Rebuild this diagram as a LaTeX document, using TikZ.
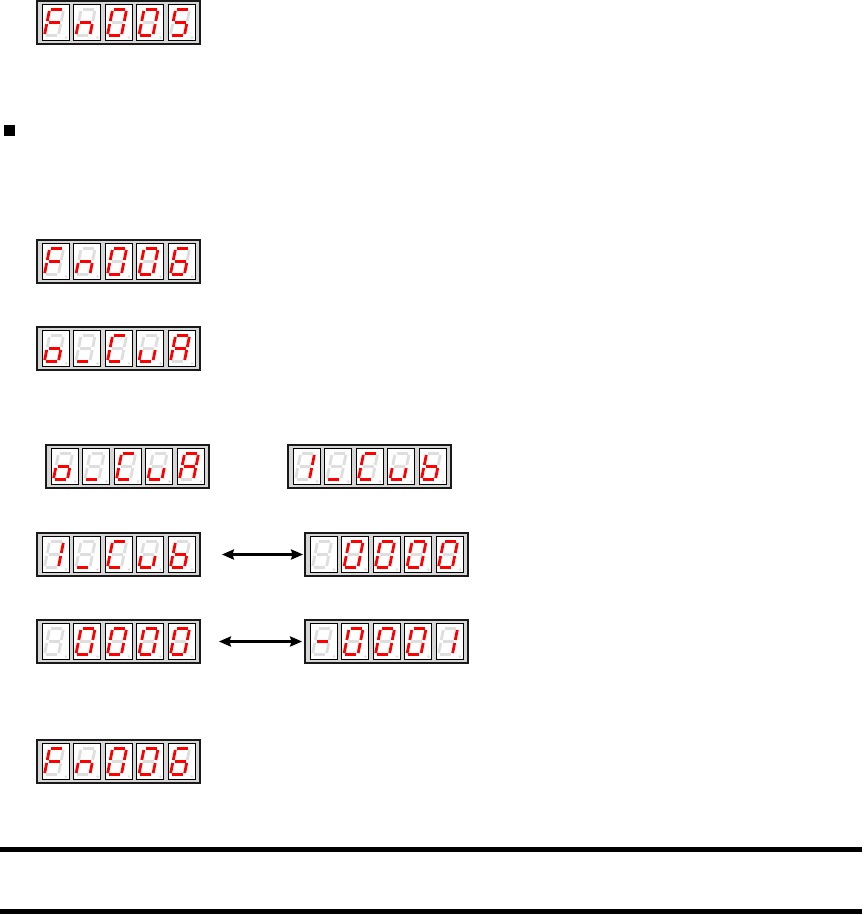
\documentclass[tikz,border=0pt]{standalone}
\usepackage{xstring}
\usepackage{tikz}
\usetikzlibrary{
    arrows.meta,
    positioning
}
\definecolor{ledred}{RGB}{255,0,0}
\definecolor{ledoff}{RGB}{222,222,222}
\definecolor{ledframe}{RGB}{214,214,214}
\definecolor{ledline}{RGB}{25,25,25}

% one five-digit panel: name, left, top, digit segments
\newcommand{\ledpanel}[4]{%
    \node[panel] (#1) at (#2+81.5,#3+21.5) {};
    \foreach \segs [count=\i] in {#4} {
        \begin{scope}[shift={(#2+18.5+31.5*\i-31.5,#3+21.5)}]
            \draw[cell] (-13.5,-18) rectangle (13.5,18);
            \fill[ledoff] (10.5,15) circle (1.3);
            \begin{scope}[xshift=-1.5pt, xslant=0.2]
                \foreach \s/\xa/\ya/\xb/\yb in {
                    a/-5.5/-13/5.5/-13, b/7/-11.5/7/-1.5,
                    c/7/1.5/7/11.5, d/-5.5/13/5.5/13,
                    e/-7/1.5/-7/11.5, f/-7/-11.5/-7/-1.5,
                    g/-5.5/0/5.5/0} {
                    \IfSubStr{\segs}{\s}
                        {\draw[segon] (\xa,\ya) -- (\xb,\yb);}
                        {\draw[segoff] (\xa,\ya) -- (\xb,\yb);}
                }
            \end{scope}
        \end{scope}
    }%
}

\begin{document}
\begin{tikzpicture}[
        x=1pt, y=-1pt,
        panel/.style={
            draw=ledline,
            fill=ledframe,
            line width=1.8pt,
            minimum width=163pt,
            minimum height=43pt,
            inner sep=0pt
        },
        cell/.style={
            draw=black,
            fill=white,
            line width=0.9pt
        },
        segon/.style={
            draw=ledred,
            line width=2.8pt
        },
        segoff/.style={
            draw=ledoff,
            line width=2.8pt
        },
        dblarrow/.style={
            {Stealth[length=12pt,width=10pt,inset=1.5pt]}-{Stealth[length=12pt,width=10pt,inset=1.5pt]},
            line width=2.8pt,
            draw=black
        },
        rule/.style={
            line width=5pt,
            draw=black
        }
    ]

    \useasboundingbox (0,0) rectangle (864,915);

    \ledpanel{fnfive}{37}{1}{afeg,ceg,abcdef,abcdef,acdfg}

    \fill (4,125) rectangle (15,136);

    \ledpanel{fnsix}{37}{240}{afeg,ceg,abcdef,abcdef,acdefg}
    \ledpanel{cua}{37}{327}{cdeg,d,adef,cde,abcefg}

    \ledpanel{cuabis}{46}{445}{cdeg,d,adef,cde,abcefg}
    \ledpanel{cub}{288}{445}{bc,d,adef,cde,cdefg}

    \ledpanel{cubleft}{37}{533}{bc,d,adef,cde,cdefg}
    \ledpanel{zero}{305}{533}{x,abcdef,abcdef,abcdef,abcdef}

    \ledpanel{zeroleft}{37}{620}{x,abcdef,abcdef,abcdef,abcdef}
    \ledpanel{minusone}{305}{620}{g,abcdef,abcdef,abcdef,bc}

    \ledpanel{fnend}{37}{740}{afeg,ceg,abcdef,abcdef,acdefg}

    \draw[dblarrow, shorten <=21pt, shorten >=1pt] (cubleft.east) -- (zero.west);
    \draw[dblarrow, shorten <=18pt, shorten >=2pt] (zeroleft.east) -- (minusone.west);

    \draw[rule] (0,849.5) -- (862,849.5);
    \draw[rule] (0,911.5) -- (862,911.5);

\end{tikzpicture}
\end{document}
